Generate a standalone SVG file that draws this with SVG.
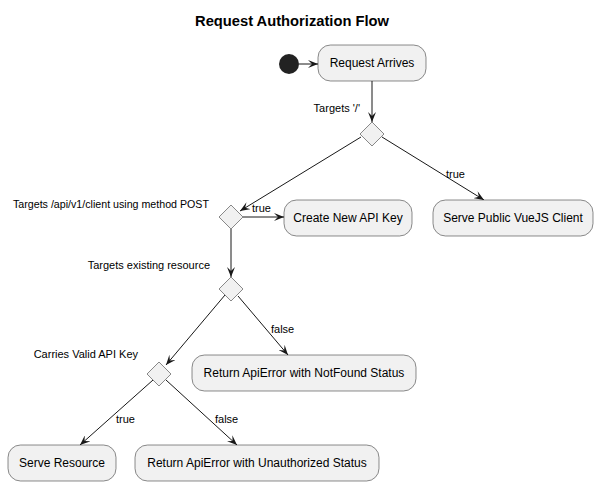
<svg xmlns="http://www.w3.org/2000/svg" width="598" height="485" viewBox="0 0 598 485">
<defs>
<marker id="arr" viewBox="0 0 10 8" refX="10" refY="4" markerWidth="10" markerHeight="8" markerUnits="userSpaceOnUse" orient="auto">
<path d="M0,0 L10,4 L0,8 L4,4 Z" fill="#181818"/>
</marker>
</defs>
<style>
.box{fill:#F1F1F1;stroke:#181818;stroke-width:0.5}
.dia{fill:#F1F1F1;stroke:#181818;stroke-width:0.5}
.t{font-family:"Liberation Sans",Arial,sans-serif;font-size:12px;fill:#000;text-anchor:middle}
.l{font-family:"Liberation Sans",Arial,sans-serif;font-size:11px;fill:#000}
.r{text-anchor:end}
.e{stroke:#181818;stroke-width:1;fill:none;marker-end:url(#arr)}
</style>
<rect width="598" height="485" fill="#FFFFFF"/>
<text x="195" y="26" textLength="194" lengthAdjust="spacingAndGlyphs" font-family="'Liberation Sans',Arial,sans-serif" font-size="14" font-weight="bold">Request Authorization Flow</text>
<g id="connectors">
<line class="e" x1="299" y1="64" x2="318" y2="64"/>
<line class="e" x1="372" y1="81" x2="372" y2="122"/>
<text class="l r" x="360" y="112">Targets '/'</text>
<line class="e" x1="361" y1="137" x2="240" y2="211"/>
<line class="e" x1="382" y1="137" x2="484" y2="200"/>
<text class="l" x="446" y="178">true</text>
<line class="e" x1="243" y1="217" x2="284" y2="217"/>
<text class="l" x="252" y="212">true</text>
<text class="l" x="13" y="208" textLength="196" lengthAdjust="spacingAndGlyphs">Targets /api/v1/client using method POST</text>
<line class="e" x1="231" y1="229" x2="231" y2="277"/>
<text class="l r" x="210" y="269">Targets existing resource</text>
<line class="e" x1="225" y1="295" x2="166" y2="365"/>
<line class="e" x1="238" y1="296" x2="288" y2="355"/>
<text class="l" x="271" y="333">false</text>
<text class="l r" x="138" y="358">Carries Valid API Key</text>
<line class="e" x1="153" y1="380" x2="80" y2="445"/>
<line class="e" x1="166" y1="380" x2="237" y2="445"/>
<text class="l" x="116" y="423">true</text>
<text class="l" x="215" y="423">false</text>
</g>
<g id="start"><circle cx="289" cy="64" r="10" fill="#222222"/></g>
<g id="request-arrives"><rect class="box" x="318" y="45" width="108" height="36" rx="12.5"/><text class="t" x="372" y="67">Request Arrives</text></g>
<g id="d1"><polygon class="dia" points="372,122 384,134 372,146 360,134"/></g>
<g id="d2"><polygon class="dia" points="231,205 243,217 231,229 219,217"/></g>
<g id="create-key"><rect class="box" x="284" y="200" width="128" height="36" rx="12.5"/><text class="t" x="348" y="222">Create New API Key</text></g>
<g id="serve-vue"><rect class="box" x="433" y="200" width="160" height="36" rx="12.5"/><text class="t" x="513" y="222">Serve Public VueJS Client</text></g>
<g id="d3"><polygon class="dia" points="231,277 243,289 231,301 219,289"/></g>
<g id="notfound"><rect class="box" x="192" y="355" width="224" height="36" rx="12.5"/><text class="t" x="304" y="377">Return ApiError with NotFound Status</text></g>
<g id="d4"><polygon class="dia" points="159,362 171,374 159,386 147,374"/></g>
<g id="serve-resource"><rect class="box" x="8" y="445" width="108" height="36" rx="12.5"/><text class="t" x="62" y="467">Serve Resource</text></g>
<g id="unauthorized"><rect class="box" x="135" y="445" width="244" height="36" rx="12.5"/><text class="t" x="257" y="467">Return ApiError with Unauthorized Status</text></g>
</svg>
